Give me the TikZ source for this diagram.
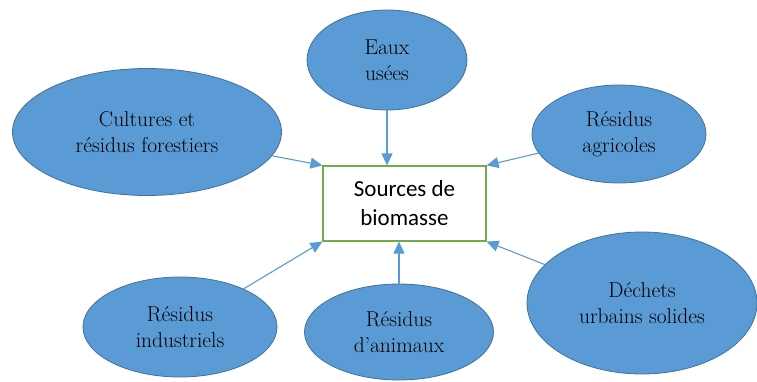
\documentclass[tikz,border=0pt]{standalone}
\usepackage{fontspec}
\newfontfamily\boxfont{Carlito}
\usetikzlibrary{shapes.geometric,arrows.meta}
\definecolor{ovalblue}{HTML}{5B9BD5}
\definecolor{ovaledge}{HTML}{41719C}
\definecolor{boxgreen}{HTML}{70AD47}
\tikzset{
  oval/.style={ellipse,fill=ovalblue,draw=ovaledge,line width=0.8pt,inner sep=0pt,
    align=center,font=\rmfamily\fontsize{21.5}{26}\selectfont},
  srcbox/.style={draw=boxgreen,line width=1.2pt,minimum width=163pt,minimum height=75pt,
    align=center,font=\boxfont\fontsize{23}{29}\selectfont},
  feed/.style={draw=ovalblue,line width=1.1pt,-{Triangle[length=12pt,width=11pt]}}
}
\begin{document}
\begin{tikzpicture}[x=1pt,y=-1pt]
	\useasboundingbox (0,0) rectangle (757,382);
	\node[srcbox] (box) at (404.5,203.5) {Sources de\\biomasse};
	\node[oval,minimum width=160pt,minimum height=100pt] (eaux) at (387,60) {Eaux\\usées};
	\node[oval,minimum width=269pt,minimum height=127pt] (cult) at (147,132) {Cultures et\\résidus forestiers};
	\node[oval,minimum width=174pt,minimum height=98pt] (agri) at (619,134) {Résidus\\agricoles};
	\node[oval,minimum width=194pt,minimum height=100pt] (indus) at (180,327) {Résidus\\industriels};
	\node[oval,minimum width=189pt,minimum height=96pt] (anim) at (399,332) {Résidus\\d’animaux};
	\node[oval,minimum width=230pt,minimum height=142pt] (dech) at (642,303) {Déchets\\urbains solides};
	\draw[feed](eaux.south)--(eaux.south |- box.north);
	\draw[feed](cult)--(box.north west);
	\draw[feed](agri)--(box.north east);
	\draw[feed](indus)--(box.south west);
	\draw[feed](anim.north)--(anim.north |- box.south);
	\draw[feed](dech)--(box.south east);
\end{tikzpicture}
\end{document}
